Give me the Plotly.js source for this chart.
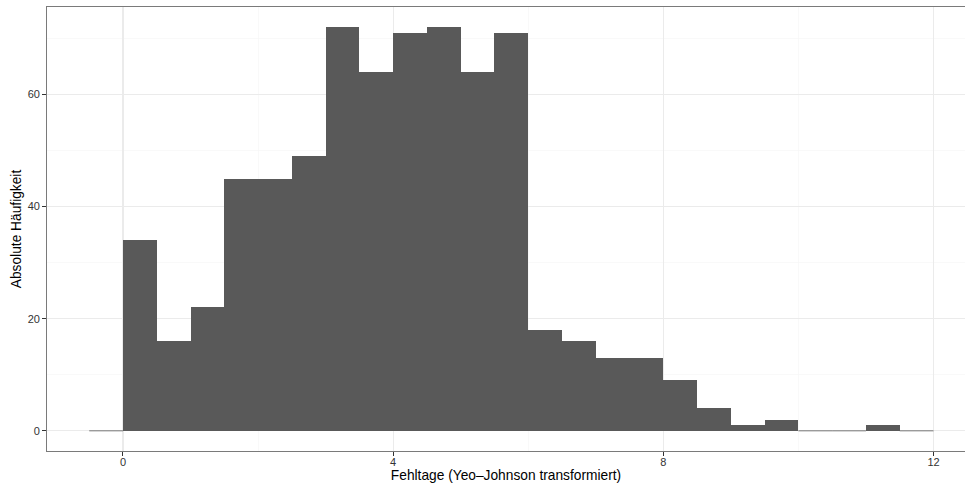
<!DOCTYPE html>
<html>
<head>
<meta charset="utf-8">
<script src="https://cdn.plot.ly/plotly-3.0.1.min.js"></script>
<style>html,body{margin:0;padding:0;overflow:hidden;background:#fff;}</style>
</head>
<body>
<div id="chart"></div>
<script>
// Histogram bins (left edges, width 0.5) and counts
const binStart = [-0.5,0,0.5,1,1.5,2,2.5,3,3.5,4,4.5,5,5.5,6,6.5,7,7.5,8,8.5,9,9.5,10,10.5,11,11.5];
const counts   = [0,34,16,22,45,45,49,72,64,71,72,64,71,18,16,13,13,9,4,1,2,0,0,1,0];
const binWidth = 0.5;
const xTicks = [0,4,8,12];
const yTicks = [0,20,40,60];

const centers = binStart.map(s => s + binWidth/2);

// zero-height bins drawn as thin lines at y=0 (as ggplot renders them)
const zx = [], zy = [];
binStart.forEach((s,i) => {
  if (counts[i] === 0) { zx.push(s, s + binWidth, null); zy.push(0, 0, null); }
});

const barColor = '#595959';
const traces = [
  {type:'bar', x: centers, y: counts, width: binWidth,
   marker:{color: barColor, line:{width:0}}, hoverinfo:'x+y'},
  {type:'scatter', mode:'lines', x: zx, y: zy,
   line:{color: barColor, width: 0.8}, hoverinfo:'skip', connectgaps:false}
];

const tickFont = {family:'Liberation Sans, Arial, sans-serif', size:11, color:'#333'};
const titleFont = {family:'Liberation Sans, Arial, sans-serif', size:13.75, color:'#000'};

const layout = {
  width: 965, height: 486,
  margin: {l:46.5, r:0, t:6.5, b:35.3},
  paper_bgcolor:'#fff', plot_bgcolor:'#fff',
  showlegend:false, bargap:0,
  xaxis: {
    range:[-1.125, 12.466], tickvals:xTicks, ticktext:xTicks.map(String),
    ticks:'outside', ticklen:3.7, tickwidth:1, tickcolor:'#333',
    ticklabelstandoff:-3,
    showgrid:true, gridcolor:'#ebebeb', gridwidth:1.1,
    minor:{tickvals:[2,6,10], showgrid:true, gridcolor:'#f5f5f5', gridwidth:0.6, ticks:''},
    zeroline:false, showline:true, mirror:true, linecolor:'#7a7a7a', linewidth:1.2,
    tickfont:tickFont, automargin:false,
    title:{text:'Fehltage (Yeo–Johnson transformiert)', font:titleFont, standoff:0}
  },
  yaxis: {
    range:[-3.6, 75.6], tickvals:yTicks, ticktext:yTicks.map(String),
    ticks:'outside', ticklen:3.7, tickwidth:1, tickcolor:'#333',
    showgrid:true, gridcolor:'#ebebeb', gridwidth:1.1,
    minor:{tickvals:[10,30,50,70], showgrid:true, gridcolor:'#f5f5f5', gridwidth:0.6, ticks:''},
    zeroline:false, showline:true, mirror:false, linecolor:'#7a7a7a', linewidth:1.2,
    tickfont:tickFont, automargin:false,
    title:{text:'Absolute Häufigkeit', font:titleFont, standoff:2}
  }
};

Plotly.newPlot('chart', traces, layout, {displayModeBar:false, staticPlot:true});
</script>
</body>
</html>
